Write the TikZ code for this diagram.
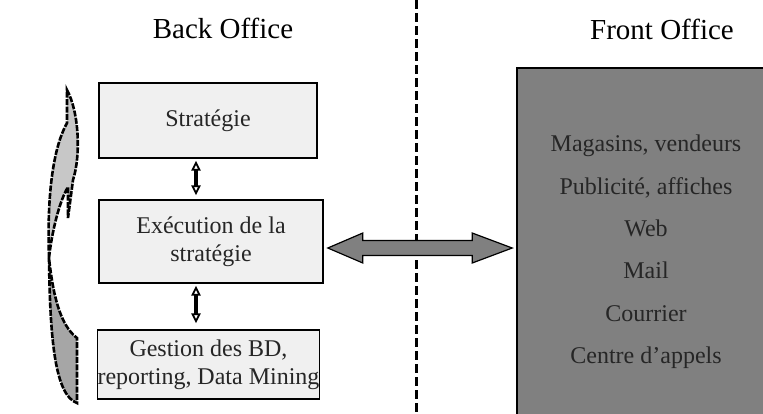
\documentclass[tikz,border=0pt]{standalone}
\usepackage{fontspec}
\setmainfont{Liberation Serif}
\usetikzlibrary{calc}

\tikzset{
  officebox/.style={draw, line width=0.8pt, fill=black!6, align=center, inner sep=0pt, font=\fontsize{12}{14}\selectfont, text=black!85},
  titletext/.style={font=\fontsize{14.5}{17}\selectfont},
  linkarrow/.style={draw, fill=white, line width=0.9pt},
  bigarrow/.style={draw, fill=black!50, line width=0.6pt},
  ribbon/.style={line width=1.3pt, dash pattern=on 3pt off 0.7pt},
}

% vertical double arrow between two boxes
\newcommand{\vlink}[2]{
  \draw[linkarrow] (#1) -- ++(3.5,7) -- ++(-2.5,0) -- ($(#2)+(1,-7)$) -- ++(2.5,0) -- (#2)
    -- ++(-3.5,-7) -- ++(2.5,0) -- ($(#1)+(-1,7)$) -- ++(-2.5,0) -- cycle;
}

\begin{document}
\begin{tikzpicture}[x=0.5pt,y=-0.5pt]
\useasboundingbox (0,0) rectangle (763,413);
\clip (0,0) rectangle (763,413);

\node[titletext] (backtitle) at (223,28) {Back Office};
\node[titletext] (fronttitle) at (662,29) {Front Office};

\draw[line width=1.5pt, dash pattern=on 4.5pt off 2pt] (416,0) -- (416,413);

% back office
\node[officebox, minimum width=109pt, minimum height=37.5pt] (strat) at (208,120.5) {Stratégie};
\node[officebox, minimum width=112pt, minimum height=41.5pt] (exec) at (211,241.5) {Exécution de la\\ stratégie};
\node[officebox, minimum width=110pt, minimum height=34.5pt] (gest) at (208.5,364.5) {Gestion des BD,\\ reporting, Data Mining};

\coordinate (s1) at ($(strat.south)+(-12,4)$);
\coordinate (e1) at ($(exec.north)+(-15,-6)$);
\coordinate (e2) at ($(exec.south)+(-15,4)$);
\coordinate (g1) at ($(gest.north)+(-12.5,-8)$);
\vlink{s1}{e1}
\vlink{e2}{g1}

% curved arrow
\filldraw[ribbon, fill=black!35] (49,258) .. controls (50,340) and (55,395) .. (77,403) -- (77,338)
  .. controls (60,325) and (53,295) .. (49,258) -- cycle;
\filldraw[ribbon, fill=black!22] (49,258) .. controls (47,200) and (52,150) .. (67,123) -- (67,90)
  .. controls (79,112) and (81,155) .. (73,180) -- (68,218) -- (68,187)
  .. controls (60,200) and (52,230) .. (49,258) -- cycle;

% front office
\node[draw, line width=0.8pt, fill=black!50, minimum width=129pt, minimum height=176pt] (front) at (646,244) {};
\node[align=center, font=\fontsize{12}{21.2}\selectfont, text=black!85] (channels) at (646,252)
  {Magasins, vendeurs\\ Publicité, affiches\\ Web\\ Mail\\ Courrier\\ Centre d’appels};

\coordinate (l) at ($(exec.east)+(4,6.5)$);
\coordinate (r) at ($(front.west)+(-4,4)$);
\draw[bigarrow] (l) -- ++(35,-15) -- ++(0,7.5) -- ($(r)+(-40,-7.5)$) -- ++(0,-7.5) -- (r)
  -- ++(-40,15) -- ++(0,-7.5) -- ($(l)+(35,7.5)$) -- ++(0,7.5) -- cycle;

\end{tikzpicture}
\end{document}
